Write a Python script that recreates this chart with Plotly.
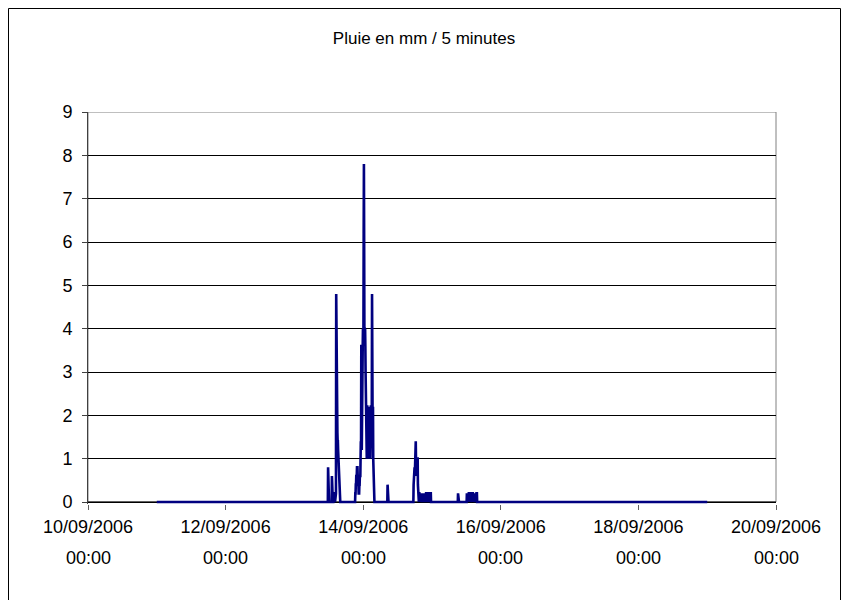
import pandas as pd
import plotly.graph_objects as go

# ---- data ----
series_start = "2006-09-11 00:00"
series_end = "2006-09-19 00:00"
step = "5min"

# Rain bursts: (first timestamp, consecutive 5-minute readings in mm)
burst_times = [
    "2006-09-13 11:45",
    "2006-09-13 13:05",
    "2006-09-13 13:40",
    "2006-09-13 14:30",
    "2006-09-13 21:15",
    "2006-09-13 23:20",
    "2006-09-14 00:55",
    "2006-09-14 08:30",
    "2006-09-14 17:35",
    "2006-09-14 19:30",
    "2006-09-15 09:05",
    "2006-09-15 12:10",
]
burst_values = [
    [0.8],
    [0.6],
    [0.2, 0.2, 0, 0.2, 0, 0.2, 0, 0.2],
    [0.2, 4.8, 3.6, 2.6, 2.0, 1.6, 1.6, 1.4, 1.4, 1.2, 1.0, 0.8, 0.6, 0.4, 0.2, 0.2],
    [0.2, 0.2, 0.4, 0.4, 0.6, 0.6, 0.6, 0.8, 0.8, 0.8, 0.6, 0.6, 0.4, 0.4, 0.2, 0.2,
     0.2, 0.4, 0.4, 0.6, 0.6, 0.6, 1.0, 1.4, 1.2],
    [3.6, 3.6, 1.2, 3.6, 3.6, 2.0, 3.6, 4.0, 3.6, 4.0, 6.2, 7.8, 6.0, 4.0, 4.0, 3.6,
     4.0, 3.6, 3.0],
    [2.2, 1.4, 2.2, 2.2, 1.0, 2.2, 2.2, 1.0, 2.2, 1.4, 2.2, 2.2, 1.0, 2.2, 2.2, 1.4,
     2.2, 1.0, 2.2, 2.2, 1.0, 2.2, 2.2, 1.4, 2.2, 2.2, 4.8, 2.2, 2.2, 1.0, 2.2, 1.0,
     0.6, 0.2],
    [0.4],
    [0.4, 0.6, 0.6, 0.8, 0.8, 0.6, 0.8, 1.0, 1.2, 1.4, 1.0, 1.0, 0.8, 1.0, 1.0, 0.6,
     1.0, 1.0, 0.4, 0.2],
    [0.2, 0.2, 0, 0.2, 0.2, 0.2, 0, 0.2, 0, 0.2, 0.2, 0, 0.2, 0.2, 0, 0.2, 0, 0.2,
     0.2, 0.2, 0, 0.2, 0.2, 0, 0.2, 0, 0.2, 0.2, 0, 0.2, 0.2, 0.2, 0, 0.2, 0, 0.2,
     0.2, 0, 0.2, 0.2, 0, 0.2, 0.2, 0, 0.2, 0, 0.2, 0.2, 0.2, 0.2],
    [0.2],
    [0.2, 0, 0.2, 0.2, 0, 0.2, 0, 0.2, 0.2, 0.2, 0, 0.2, 0, 0.2, 0.2, 0, 0.2, 0.2,
     0, 0.2, 0.2, 0, 0.2, 0, 0.2, 0.2, 0, 0.2, 0, 0.2, 0.2, 0, 0.2, 0, 0.2, 0.2, 0,
     0.2, 0.2, 0, 0.2, 0.2, 0.2],
]

tick_dates = ["2006-09-10", "2006-09-12", "2006-09-14", "2006-09-16", "2006-09-18", "2006-09-20"]
tick_day_labels = ["10/09/2006", "12/09/2006", "14/09/2006", "16/09/2006", "18/09/2006", "20/09/2006"]
tick_time_labels = ["00:00"] * 6
title_text = "Pluie en mm / 5 minutes"

# ---- build the 5-minute series ----
times = pd.date_range(series_start, series_end, freq=step)
rain = pd.Series(0.0, index=times)
for t0, vals in zip(burst_times, burst_values):
    idx = pd.date_range(t0, periods=len(vals), freq=step)
    rain.loc[idx] = vals

W, H = 848, 600
L, R, T, B = 88, 72, 112, 96
pw, ph = W - L - R, H - T - B
Y_TOP = 9
Y_BOT = -0.046          # a hair below zero so the thick zero line is not clipped
ZERO_PX = 502

def px_x(p):
    return (p - L) / pw

def px_y(p):
    return (H - B - p) / ph

FONT = "Liberation Sans, Arial, sans-serif"

fig = go.Figure(
    go.Scatter(
        x=rain.index, y=rain.values, mode="lines",
        line=dict(color="#000080", width=2.6),
        hoverinfo="skip",
    )
)

annotations = [
    dict(text=lab, x=d, xref="x", y=px_y(558), yref="paper",
         showarrow=False, xanchor="center", yanchor="middle",
         font=dict(family=FONT, size=18, color="black"))
    for d, lab in zip(tick_dates, tick_time_labels)
]

fig.update_layout(
    width=W, height=H,
    margin=dict(l=L, r=R, t=T, b=B, pad=0),
    paper_bgcolor="white", plot_bgcolor="white",
    showlegend=False,
    font=dict(family=FONT, size=18, color="black"),
    title=dict(text=title_text, x=0.5, xref="container", xanchor="center",
               y=1 - 38 / H, yref="container", yanchor="middle",
               font=dict(family=FONT, size=17, color="black")),
    xaxis=dict(
        type="date", range=["2006-09-10", "2006-09-20"],
        tickmode="array", tickvals=tick_dates, ticktext=tick_day_labels,
        showgrid=False, zeroline=False,
        showline=False,
        ticks="outside", ticklen=5, tickcolor="#606060", tickwidth=1,
        tickfont=dict(family=FONT, size=18, color="black"),
        ticklabelstandoff=1,
        layer="below traces",
    ),
    yaxis=dict(
        range=[Y_BOT, Y_TOP], tickmode="array", tickvals=list(range(0, 10)),
        showgrid=True, gridcolor="black", gridwidth=1,
        zeroline=True, zerolinecolor="black", zerolinewidth=1,
        showline=True, linecolor="#404040", linewidth=1,
        ticks="outside", ticklen=5, tickcolor="#404040",
        tickfont=dict(family=FONT, size=18, color="black"),
        ticklabelstandoff=6,
        layer="below traces",
    ),
    annotations=annotations,
    shapes=[
        dict(type="rect", xref="paper", yref="y", x0=0, x1=1, y0=0, y1=Y_TOP,
             line=dict(color="#808080", width=1), layer="between"),
        dict(type="line", xref="paper", yref="y", x0=0, x1=1, y0=0, y1=0,
             line=dict(color="black", width=1), layer="between"),
        dict(type="rect", xref="paper", yref="paper",
             x0=px_x(8.5), x1=px_x(840.5), y0=px_y(602), y1=px_y(8.5),
             line=dict(color="black", width=1), layer="above"),
    ],
)

fig.write_html("out.html")
